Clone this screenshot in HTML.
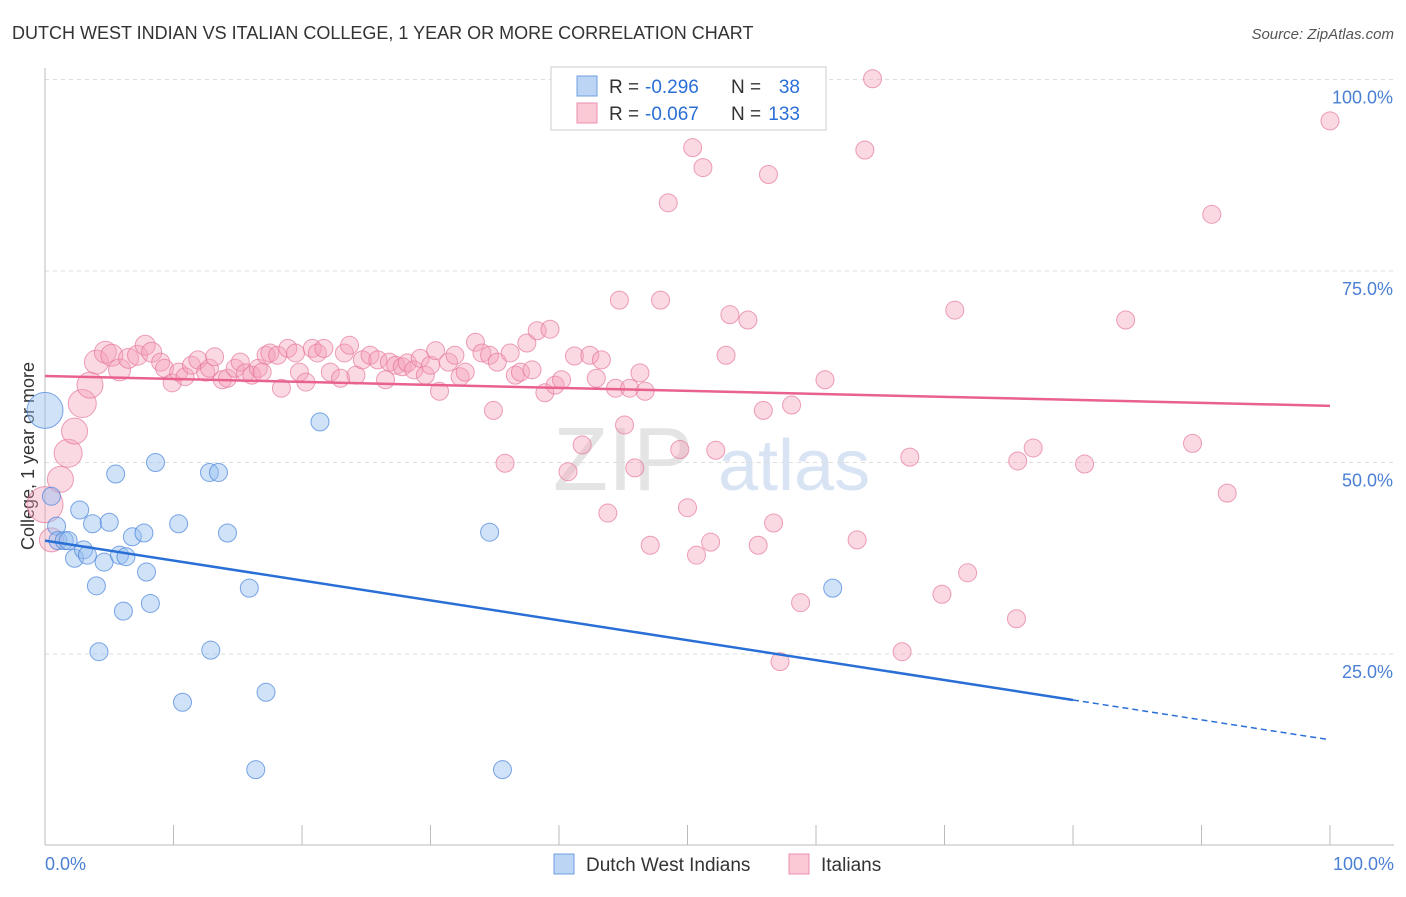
<!DOCTYPE html>
<html><head><meta charset="utf-8"><style>
body{margin:0;background:#fff;font-family:"Liberation Sans",sans-serif}
svg text{font-family:"Liberation Sans",sans-serif}
</style></head><body>
<svg id="c" width="1406" height="892"></svg>
<script>
const blueX=[0,0.5,0.9,1,1.5,1.8,2.3,2.7,3,3.3,3.7,4,4.2,4.6,5,5.5,5.8,6.1,6.3,6.8,7.7,7.9,8.2,8.6,10.4,10.7,12.8,12.9,13.5,14.2,15.9,16.4,17.2,21.4,34.6,35.6,61.3];
const blueY=[56.8,45.6,41.7,39.8,39.8,39.8,37.5,43.8,38.6,37.9,42,33.9,25.3,37,42.2,48.5,37.9,30.6,37.7,40.3,40.8,35.7,31.6,50,42,18.7,48.7,25.5,48.7,40.8,33.6,9.9,20,55.3,40.9,9.9,33.6];
const blueR=[18,9,9,9,9,9,9,9,9,9,9,9,9,9,9,9,9,9,9,9,9,9,9,9,9,9,9,9,9,9,9,9,9,9,9,9,9];
const pinkX=[0,0.5,1.2,1.8,2.3,2.9,3.5,4.0,4.7,5.2,5.8,6.5,7.2,7.8,8.3,9.0,9.3,9.9,10.4,10.9,11.4,11.9,12.5,12.8,13.2,13.8,14.2,14.8,15.2,15.6,16.1,16.6,16.9,17.2,17.5,18.1,18.4,18.9,19.5,19.8,20.3,20.8,21.2,21.7,22.2,23.0,23.3,23.7,24.2,24.7,25.3,25.9,26.5,26.8,27.3,27.8,28.2,28.7,29.2,29.6,30.0,30.4,30.7,31.4,31.9,32.3,32.7,33.5,34.0,34.6,34.9,35.2,35.8,36.2,36.6,37.0,37.5,37.9,38.3,38.9,39.3,39.7,40.2,40.7,41.2,41.8,42.4,42.9,43.3,43.8,44.4,44.7,45.1,45.5,45.9,46.3,46.7,47.1,47.9,48.5,49.4,50.0,50.4,50.7,51.2,51.8,52.2,53.0,53.3,54.7,55.5,55.9,56.3,56.7,57.2,58.1,58.8,60.7,63.2,63.8,64.4,66.7,67.3,69.8,70.8,71.8,75.6,75.7,76.9,80.9,84.1,89.3,90.8,92.0,100];
const pinkY=[44.5,39.9,47.8,51.2,54.1,57.7,60.1,63.1,64.4,64.0,62.1,63.6,64.0,65.3,64.4,63.1,62.3,60.4,61.8,61.2,62.7,63.4,61.8,62.3,63.8,60.8,61.0,62.3,63.1,61.7,61.4,62.3,61.8,64.0,64.3,64.0,59.7,64.9,64.3,61.8,60.5,64.9,64.3,64.9,61.8,61.0,64.3,65.3,61.4,63.4,64.0,63.4,60.8,63.1,62.7,62.5,63.0,62.1,63.6,61.4,62.7,64.6,59.3,63.1,64.0,61.2,61.8,65.7,64.3,64.0,56.8,63.1,49.9,64.3,61.4,61.8,65.6,62.1,67.2,59.1,67.4,60.1,60.8,48.8,63.9,52.3,64.0,61.0,63.4,43.4,59.7,71.2,54.9,59.7,49.3,61.7,59.3,39.2,71.2,83.9,51.7,44.1,91.1,37.9,88.5,39.6,51.6,64.0,69.3,68.6,39.2,56.8,87.6,42.1,24.0,57.5,31.7,60.8,39.9,90.8,100.1,25.3,50.7,32.8,69.9,35.6,29.6,50.2,51.9,49.8,68.6,52.5,82.4,46.0,94.6];
const pinkR=[18,12,13,14,13,14,13,12,11,11,11,10,10,10,10];
const yTicks=[25,50,75,100];
const pinkTrend=[61.3,57.4];
const blueTrend=[39.8,19.0,13.8];
const NS="http://www.w3.org/2000/svg";
const svg=document.getElementById('c');
const X=v=>45+v*12.85, Y=v=>845.5-v*7.66;
function mk(t,a,txt){const e=document.createElementNS(NS,t);for(const k in a)e.setAttribute(k,a[k]);if(txt!=null)e.textContent=txt;svg.appendChild(e);return e;}
let e;
e=mk('text',{x:12,y:39,'font-size':18,fill:'#333'},'DUTCH WEST INDIAN VS ITALIAN COLLEGE, 1 YEAR OR MORE CORRELATION CHART');


e=mk('text',{x:1394,y:39,'font-size':15,fill:'#555','text-anchor':'end','font-style':'italic'},'Source: ZipAtlas.com');


e=mk('text',{x:553,y:490,'font-size':90,fill:'#e4e4e4','font-family':'Liberation Serif'},'ZIP');


e=mk('text',{x:718,y:490,'font-size':72,fill:'#d8e4f4'},'atlas');


yTicks.forEach(t=>{
 e=mk('line',{x1:45,x2:1394,y1:Y(t),y2:Y(t),stroke:'#ddd','stroke-dasharray':'4,4'});
 
 
 e=mk('text',{x:1393,y:Y(t)+24,'font-size':18,fill:'#4a7fd4','text-anchor':'end'},t.toFixed(1)+'%');
 
 
});
e=mk('line',{x1:45,x2:45,y1:68,y2:845,stroke:'#bbb'});


e=mk('line',{x1:45,x2:1394,y1:845,y2:845,stroke:'#bbb'});


for(let i=0;i<=10;i++){e=mk('line',{x1:X(i*10),x2:X(i*10),y1:825,y2:845,stroke:'#bbb'});
 
 }
e=mk('text',{x:45,y:870,'font-size':18,fill:'#4a7fd4'},'0.0%');


e=mk('text',{x:1394,y:870,'font-size':18,fill:'#4a7fd4','text-anchor':'end'},'100.0%');


e=mk('text',{x:34,y:456,'font-size':18,fill:'#333','text-anchor':'middle',transform:'rotate(-90 34 456)'},'College, 1 year or more');


pinkX.forEach((v,i)=>{e=mk('circle',{cx:X(v),cy:Y(pinkY[i]),r:pinkR[i]||9,fill:'rgba(245,160,185,0.4)',stroke:'rgba(230,120,155,0.7)','stroke-width':1});
 
 });
blueX.forEach((v,i)=>{e=mk('circle',{cx:X(v),cy:Y(blueY[i]),r:blueR[i],fill:'rgba(150,190,240,0.45)',stroke:'rgba(70,130,220,0.7)','stroke-width':1});
 
 });
e=mk('line',{x1:X(0),y1:Y(pinkTrend[0]),x2:X(100),y2:Y(pinkTrend[1]),stroke:'#e8618f','stroke-width':2.5});


e=mk('line',{x1:X(0),y1:Y(blueTrend[0]),x2:X(80),y2:Y(blueTrend[1]),stroke:'#2a6fd6','stroke-width':2.5});


e=mk('line',{x1:X(80),y1:Y(blueTrend[1]),x2:X(100),y2:Y(blueTrend[2]),stroke:'#2a6fd6','stroke-width':1.5,'stroke-dasharray':'6,4'});


e=mk('rect',{x:551,y:67,width:275,height:63,fill:'#fff',stroke:'#ccc'});


[[-0.296,38,'#bcd5f5','#6f9fe0',86],[-0.067,133,'#fbc8d6','#ec8fae',113]].forEach(r=>{
 e=mk('rect',{x:577,y:r[4]-10,width:20,height:20,fill:r[2],stroke:r[3]});
 
 
 e=mk('text',{x:609,y:r[4]+7,'font-size':19,fill:'#333'},'R = ');
 
 
 e=mk('text',{x:645,y:r[4]+7,'font-size':19,fill:'#2a6fd6'},r[0].toFixed(3));
 
 
 e=mk('text',{x:731,y:r[4]+7,'font-size':19,fill:'#333'},'N = ');
 
 
 e=mk('text',{x:800,y:r[4]+7,'font-size':19,fill:'#2a6fd6','text-anchor':'end'},String(r[1]));
 
 
});
[['Dutch West Indians',554,'#bcd5f5','#6f9fe0'],['Italians',789,'#fbc8d6','#ec8fae']].forEach(l=>{
 e=mk('rect',{x:l[1],y:854,width:20,height:20,fill:l[2],stroke:l[3]});
 
 
 e=mk('text',{x:l[1]+32,y:871,'font-size':19,fill:'#333'},l[0]);
 
 
});
</script>
</body></html>
